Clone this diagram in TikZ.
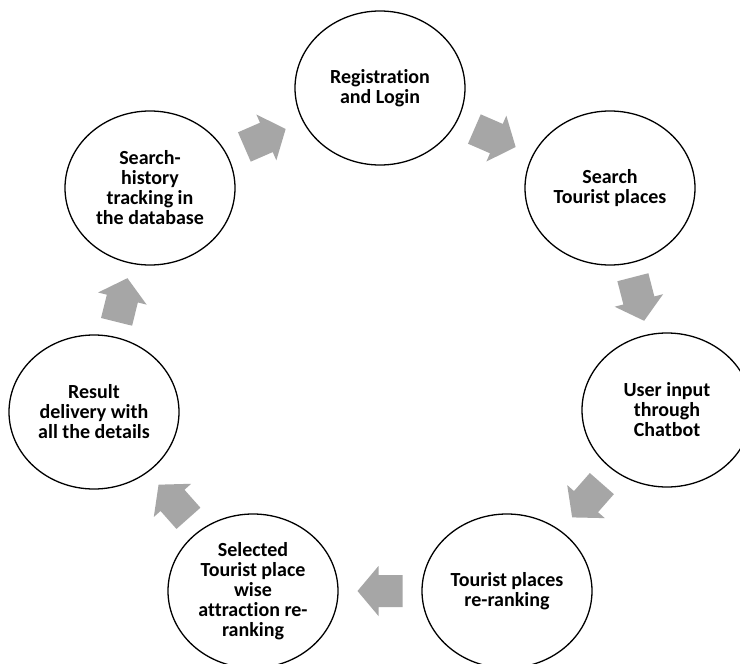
\documentclass[tikz,border=0pt]{standalone}
\usepackage{fontspec}
\setmainfont{Carlito}[Ligatures={NoCommon,NoRare,NoContextual}]
\usetikzlibrary{shapes.geometric,calc}
\definecolor{arrowgray}{RGB}{166,166,166}
\tikzset{
  stage/.style={ellipse, draw=black, line width=1.3pt, fill=white, minimum width=170pt, minimum height=154pt, inner sep=0pt, align=center, font=\fontsize{20}{20}\selectfont\bfseries},
  blockarrow/.style={fill=arrowgray, draw=none}
}
\newcommand\flowarrow[3]{%
  \path ($(#1)!0.5!(#2)$) coordinate (mid-#1-#2);
  \fill[blockarrow, shift={(mid-#1-#2)}, rotate=#3]
    (22.5,0) -- (1.5,25) -- (1.5,16) -- (-22.5,16) -- (-22.5,-16) -- (1.5,-16) -- (1.5,-25) -- cycle;
}
\begin{document}
\begin{tikzpicture}[x=1pt,y=-1pt]
\clip (0,0) rectangle (740,664);
\fill[white] (0,0) rectangle (740,664);
\node[stage] (n1) at (380,88) {Registration\\and Login};
\node[stage] (n2) at (610,188) {Search\\Tourist places};
\node[stage] (n3) at (667,410) {User input\\through\\Chatbot};
\node[stage] (n4) at (507,591) {Tourist places\\re-ranking};
\node[stage] (n5) at (253,591) {Selected\\Tourist place\\wise\\attraction re-\\ranking};
\node[stage] (n6) at (94,412) {Result\\delivery with\\all the details};
\node[stage] (n7) at (150,188) {Search-\\history\\tracking in\\the database};
\flowarrow{n7}{n1}{23.5}
\flowarrow{n1}{n2}{-23.5}
\flowarrow{n2}{n3}{-75.5}
\flowarrow{n3}{n4}{-131.3}
\flowarrow{n4}{n5}{180}
\flowarrow{n5}{n6}{131.6}
\flowarrow{n6}{n7}{76}
\end{tikzpicture}
\end{document}
